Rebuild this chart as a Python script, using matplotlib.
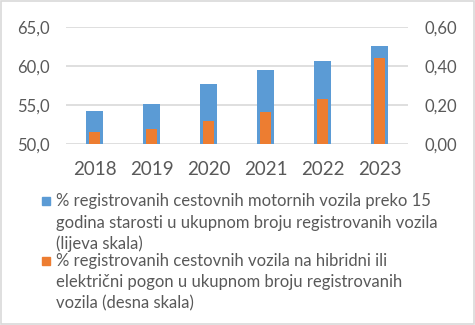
import matplotlib
matplotlib.use("Agg")
from matplotlib import pyplot as plt
from matplotlib.patches import Rectangle
from matplotlib.ticker import FuncFormatter

years = ["2018", "2019", "2020", "2021", "2022", "2023"]
old_vehicles = [54.2, 55.1, 57.7, 59.5, 60.6, 62.6]  # lijeva skala
hybrid_electric = [0.060, 0.077, 0.118, 0.166, 0.230, 0.442]  # desna skala

label_old = ("% registrovanih cestovnih motornih vozila preko 15\n"
             "godina starosti u ukupnom broju registrovanih vozila\n"
             "(lijeva skala)")
label_hybrid = ("% registrovanih cestovnih vozila na hibridni ili\n"
                "električni pogon u ukupnom broju registrovanih\n"
                "vozila (desna skala)")

BLUE = "#5B9BD5"
ORANGE = "#ED7D31"
TEXT = "#595959"
GRID = "#D9D9D9"

plt.rcParams["font.family"] = ["Lato", "DejaVu Sans"]

fig = plt.figure(figsize=(4.75, 3.25), dpi=100)
fig.patches.append(Rectangle((0.002, 0.003), 0.996, 0.994, transform=fig.transFigure,
                             fill=False, edgecolor=GRID, linewidth=1.2))

W, H = 475, 325
ax = fig.add_axes([66 / W, 1 - 144 / H, (408 - 66) / W, (144 - 27) / H])
ax2 = ax.twinx()

x = list(range(len(years)))
ax.bar(x, [v - 50 for v in old_vehicles], bottom=50, width=0.31, color=BLUE, zorder=2)
ax2.bar(x, hybrid_electric, width=0.18, color=ORANGE, zorder=3)

ax.set_xlim(-0.5, len(years) - 0.5)
ax.set_ylim(50, 65)
ax.set_yticks([50, 55, 60, 65])
ax2.set_ylim(0, 0.6)
ax2.set_yticks([0, 0.2, 0.4, 0.6])

ax.yaxis.set_major_formatter(FuncFormatter(lambda v, p: f"{v:.1f}".replace(".", ",")))
ax2.yaxis.set_major_formatter(FuncFormatter(lambda v, p: f"{v:.2f}".replace(".", ",")))

ax.set_xticks(x)
ax.set_xticklabels(years)
ax.grid(axis="y", color=GRID, linewidth=1.2, zorder=0)
ax.set_axisbelow(True)

for a in (ax, ax2):
    for s in a.spines.values():
        s.set_visible(False)
    a.tick_params(length=0, labelsize=12, colors=TEXT)
ax.tick_params(axis="y", pad=12)
ax2.tick_params(axis="y", pad=12)
ax.tick_params(axis="x", pad=12, labelsize=13.5)

# legend drawn by hand so the marker sits next to the first line
# (va="baseline" pins the baseline of the last line)
for sq_top, last_baseline, color, text in [(197, 249.5, BLUE, label_old),
                                           (257, 308.5, ORANGE, label_hybrid)]:
    fig.patches.append(Rectangle((42 / W, 1 - (sq_top + 7.5) / H), 7.5 / W, 7.5 / H,
                                 transform=fig.transFigure, color=color))
    fig.text(56.5 / W, 1 - last_baseline / H, text, color=TEXT, fontsize=12,
             va="baseline", ha="left", linespacing=1.4)

fig.savefig("out.png", dpi=100)
